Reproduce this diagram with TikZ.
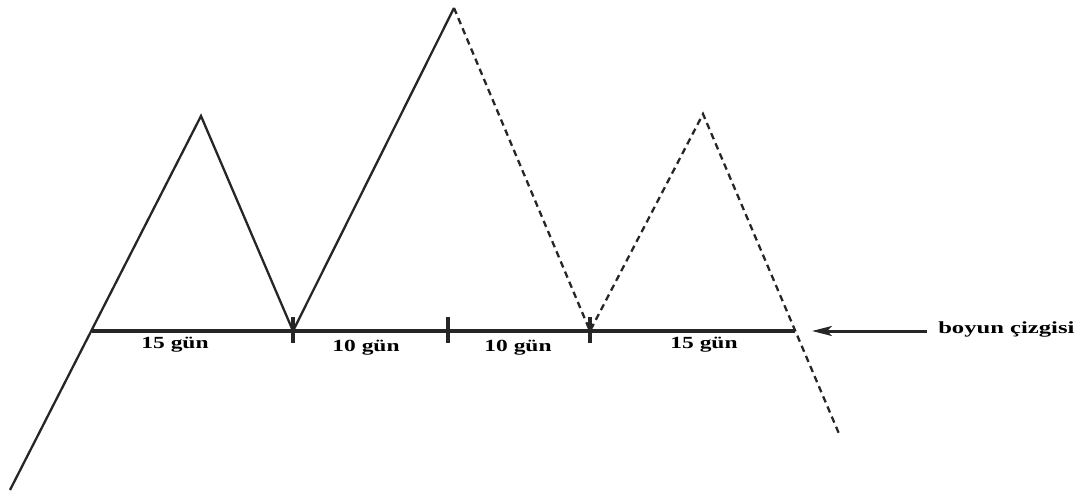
\documentclass[tikz,border=0pt]{standalone}
\usepackage{fontspec}
\setmainfont{Liberation Serif}
\usetikzlibrary{arrows.meta,positioning,calc}
\tikzset{
  price/.style={line width=2.3pt, draw=black!85, line join=miter},
  forecast/.style={price, dash pattern=on 6.5pt off 4.5pt},
  neckline/.style={line width=3.2pt, draw=black!85},
  tickmark/.style={line width=3.2pt, draw=black!85},
  span/.style={font=\fontsize{17}{19}\selectfont\bfseries, xscale=1.38, transform shape, inner sep=0pt},
  pointer/.style={-{Stealth[length=20pt, width=10pt, inset=5pt]}, line width=3pt, draw=black!85},
}
\begin{document}
\begin{tikzpicture}[x=1pt, y=1pt]
  \useasboundingbox (0,0) rectangle (1081,493);
  % turning points of the pattern
  \coordinate (start) at (10,3);
  \coordinate (leftShoulder) at (201,377);
  \coordinate (troughA) at (293,162);
  \coordinate (head) at (454,485);
  \coordinate (troughB) at (590,162);
  \coordinate (rightShoulder) at (703,379);
  \coordinate (finish) at (840,57);
  % neckline
  \coordinate (neckL) at (92,162);
  \coordinate (neckR) at (795,162);
  \coordinate (neckMid) at (448,162);
  \draw[neckline] (neckL) -- (neckR);
  \foreach \t in {troughA, neckMid, troughB}
    \draw[tickmark] ($(\t)+(0,14)$) -- ($(\t)+(0,-12)$);
  % price path
  \draw[price] (start) -- (leftShoulder) -- (troughA) -- (head);
  \draw[forecast] (head) -- (troughB) -- (rightShoulder) -- (finish);
  % spans
  \node[span] (spanA) at (175,148) {15 gün};
  \node[span] (spanB) at (366,145) {10 gün};
  \node[span] (spanC) at (518,145) {10 gün};
  \node[span] (spanD) at (704,148) {15 gün};
  \node[span, xscale=1.05, anchor=west] (neckLabel) at (938,164) {boyun çizgisi};
  \coordinate (pointerTip) at (812,162);
  \draw[pointer] ($(neckLabel.west)+(-11,-2)$) -- (pointerTip);
\end{tikzpicture}
\end{document}
